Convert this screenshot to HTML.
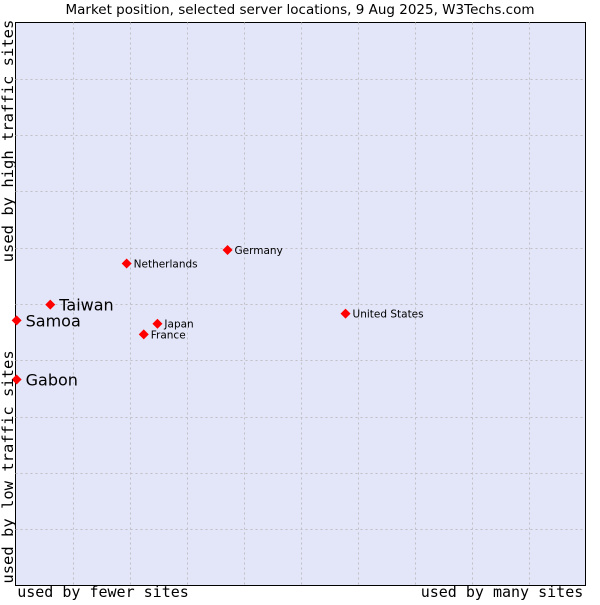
<!DOCTYPE html>
<html><head><meta charset="utf-8"><style>
body{margin:0;background:#fff;width:600px;height:600px;overflow:hidden}
</style></head><body>
<svg width="600" height="600" xmlns="http://www.w3.org/2000/svg">
<text x="300" y="14" text-anchor="middle" font-family="DejaVu Sans, Liberation Sans, sans-serif" font-size="13.5" fill="#000">Market position, selected server locations, 9 Aug 2025, W3Techs.com</text>
<rect x="15.5" y="22.5" width="570" height="563" fill="#e3e5f8" stroke="#000" stroke-width="1"/>
<g id="grid"></g>
<g id="marks"></g>
<text x="103" y="597" text-anchor="middle" font-family="DejaVu Sans Mono, Liberation Mono, monospace" font-size="15">used by fewer sites</text>
<text x="502" y="597" text-anchor="middle" font-family="DejaVu Sans Mono, Liberation Mono, monospace" font-size="15">used by many sites</text>
<text transform="translate(13,141) rotate(-90)" text-anchor="middle" font-family="DejaVu Sans Mono, Liberation Mono, monospace" font-size="15.5">used by high traffic sites</text>
<text transform="translate(13,467) rotate(-90)" text-anchor="middle" font-family="DejaVu Sans Mono, Liberation Mono, monospace" font-size="15.5">used by low traffic sites</text>
</svg>
<script>
const names=["Germany","Netherlands","Taiwan","Samoa","Japan","France","Gabon","United States"];
const xVals=[37.2,19.5,6.1,0.2,24.9,22.5,0.2,57.9];
const yVals=[59.6,57.2,49.9,47.1,46.5,44.6,36.6,48.3];
const bigLabel=[false,false,true,true,false,false,true,false];
const X0=15.5,X1=585.5,Y0=585.5,Y1=22.5;
const sx=v=>X0+(X1-X0)*v/100;
const sy=v=>Y0-(Y0-Y1)*v/100;
const NS="http://www.w3.org/2000/svg";
const grid=document.getElementById('grid');
for(let i=1;i<10;i++){
  const v=document.createElementNS(NS,'line');
  
  
  const x=Math.round(sx(i*10))+0.5;
  v.setAttribute('x1',x);v.setAttribute('x2',x);v.setAttribute('y1',Y1);v.setAttribute('y2',Y0);
  v.setAttribute('stroke','#c0c0c4');v.setAttribute('stroke-dasharray','2,3');
  grid.appendChild(v);
  const h=document.createElementNS(NS,'line');
  
  
  const y=Math.round(sy(i*10))+0.5;
  h.setAttribute('x1',X0);h.setAttribute('x2',X1);h.setAttribute('y1',y);h.setAttribute('y2',y);
  h.setAttribute('stroke','#c0c0c4');h.setAttribute('stroke-dasharray','2,3');
  grid.appendChild(h);
}
const marks=document.getElementById('marks');
names.forEach((n,i)=>{
  const x=sx(xVals[i]),y=sy(yVals[i]);
  const p=document.createElementNS(NS,'polygon');
  
  
  p.setAttribute('points',`${x},${y-5} ${x+5},${y} ${x},${y+5} ${x-5},${y}`);
  p.setAttribute('fill','#f00');
  marks.appendChild(p);
  const t=document.createElementNS(NS,'text');
  
  
  const big=bigLabel[i];
  t.setAttribute('x',x+(big?9:7));
  t.setAttribute('y',y+(big?6:4));
  t.setAttribute('font-family','DejaVu Sans, Liberation Sans, sans-serif');
  t.setAttribute('font-size',big?16:10.5);
  t.setAttribute('fill','#000');
  t.textContent=n;
  marks.appendChild(t);
});
</script>
</body></html>
